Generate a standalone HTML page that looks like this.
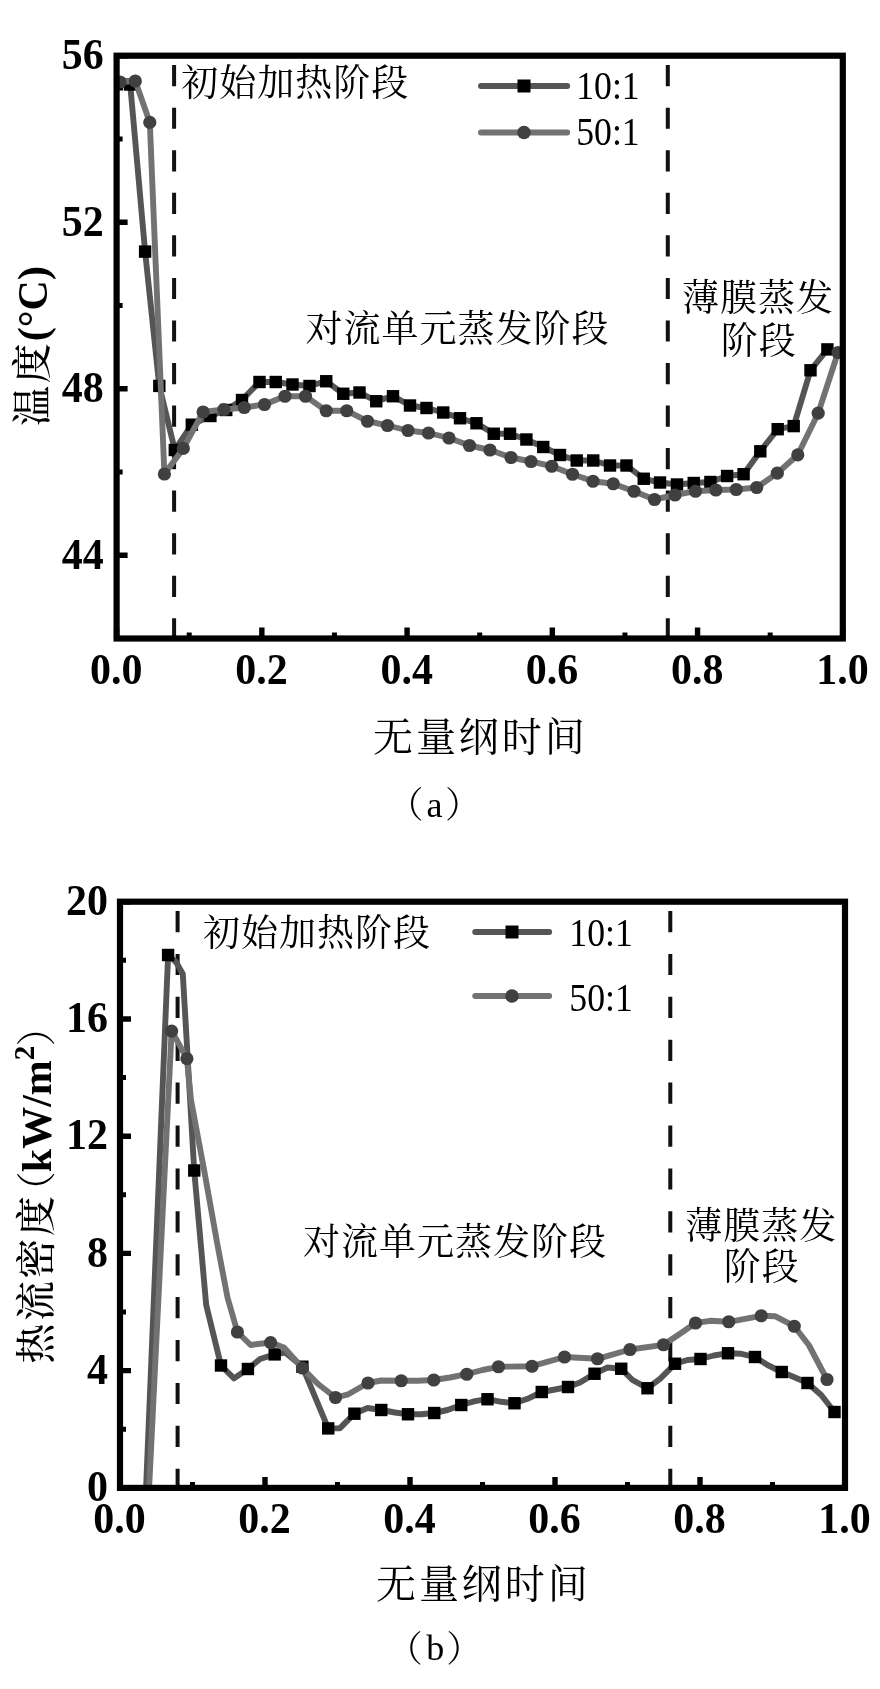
<!DOCTYPE html>
<html lang="zh"><head><meta charset="utf-8"><title>figure</title>
<style>html,body{margin:0;padding:0;background:#fff;overflow:hidden}svg{display:block;will-change:transform;filter:grayscale(1) blur(0.45px)}</style></head>
<body>
<svg width="880" height="1689" viewBox="0 0 880 1689">
<rect width="880" height="1689" fill="#fff"/>
<path d="M174.1 65.1V86.3M174.1 107.7V128.8M174.1 150.2V171.4M174.1 192.8V213.9M174.1 235.3V256.5M174.1 277.9V299.1M174.1 320.4V341.6M174.1 363.0V384.2M174.1 405.5V426.7M174.1 448.1V469.3M174.1 490.6V511.8M174.1 533.2V554.4M174.1 575.7V596.9M174.1 618.2V638.5" stroke="#111" stroke-width="4" fill="none"/>
<path d="M667.8 65.1V86.3M667.8 107.7V128.8M667.8 150.2V171.4M667.8 192.8V213.9M667.8 235.3V256.5M667.8 277.9V299.1M667.8 320.4V341.6M667.8 363.0V384.2M667.8 405.5V426.7M667.8 448.1V469.3M667.8 490.6V511.8M667.8 533.2V554.4M667.8 575.7V596.9M667.8 618.2V638.5" stroke="#111" stroke-width="4" fill="none"/>
<clipPath id="ca"><rect x="114" y="53" width="732" height="588"/></clipPath><g clip-path="url(#ca)">
<polyline points="117.0,84.3 130.2,84.5 145.1,251.6 159.3,385.9 174.8,450.0 191.8,424.7 210.4,416.0 226.2,410.0 242.0,400.0 259.5,382.0 275.8,382.0 292.5,384.5 309.5,386.0 326.2,381.2 343.2,393.8 359.5,392.5 376.2,401.2 393.0,396.2 410.0,405.5 426.5,408.0 443.2,412.5 460.0,418.2 476.5,423.2 493.8,433.8 510.0,433.8 526.4,439.5 543.2,447.0 560.0,455.0 576.8,460.5 593.2,460.5 610.0,465.5 626.5,465.5 643.8,478.8 660.0,482.5 677.0,484.5 693.8,483.0 710.4,482.0 727.1,476.0 743.6,474.2 760.3,451.3 777.7,429.2 793.7,426.1 810.5,370.3 827.4,349.4" fill="none" stroke="#555555" stroke-width="5.9" stroke-linejoin="round" stroke-linecap="round"/>
<g fill="#000000"><rect x="110.80" y="78.10" width="12.4" height="12.4"/><rect x="124.00" y="78.30" width="12.4" height="12.4"/><rect x="138.90" y="245.40" width="12.4" height="12.4"/><rect x="153.10" y="379.70" width="12.4" height="12.4"/><rect x="168.60" y="443.80" width="12.4" height="12.4"/><rect x="185.60" y="418.50" width="12.4" height="12.4"/><rect x="204.20" y="409.80" width="12.4" height="12.4"/><rect x="220.05" y="403.80" width="12.4" height="12.4"/><rect x="235.80" y="393.80" width="12.4" height="12.4"/><rect x="253.30" y="375.80" width="12.4" height="12.4"/><rect x="269.55" y="375.80" width="12.4" height="12.4"/><rect x="286.30" y="378.30" width="12.4" height="12.4"/><rect x="303.30" y="379.80" width="12.4" height="12.4"/><rect x="320.05" y="375.05" width="12.4" height="12.4"/><rect x="337.05" y="387.55" width="12.4" height="12.4"/><rect x="353.30" y="386.30" width="12.4" height="12.4"/><rect x="370.05" y="395.05" width="12.4" height="12.4"/><rect x="386.80" y="390.05" width="12.4" height="12.4"/><rect x="403.80" y="399.30" width="12.4" height="12.4"/><rect x="420.30" y="401.80" width="12.4" height="12.4"/><rect x="437.05" y="406.30" width="12.4" height="12.4"/><rect x="453.80" y="412.05" width="12.4" height="12.4"/><rect x="470.30" y="417.05" width="12.4" height="12.4"/><rect x="487.55" y="427.55" width="12.4" height="12.4"/><rect x="503.80" y="427.55" width="12.4" height="12.4"/><rect x="520.20" y="433.30" width="12.4" height="12.4"/><rect x="537.05" y="440.80" width="12.4" height="12.4"/><rect x="553.80" y="448.80" width="12.4" height="12.4"/><rect x="570.55" y="454.30" width="12.4" height="12.4"/><rect x="587.05" y="454.30" width="12.4" height="12.4"/><rect x="603.80" y="459.30" width="12.4" height="12.4"/><rect x="620.30" y="459.30" width="12.4" height="12.4"/><rect x="637.55" y="472.55" width="12.4" height="12.4"/><rect x="653.80" y="476.30" width="12.4" height="12.4"/><rect x="670.80" y="478.30" width="12.4" height="12.4"/><rect x="687.55" y="476.80" width="12.4" height="12.4"/><rect x="704.20" y="475.80" width="12.4" height="12.4"/><rect x="720.90" y="469.80" width="12.4" height="12.4"/><rect x="737.40" y="468.00" width="12.4" height="12.4"/><rect x="754.10" y="445.10" width="12.4" height="12.4"/><rect x="771.50" y="423.00" width="12.4" height="12.4"/><rect x="787.50" y="419.90" width="12.4" height="12.4"/><rect x="804.30" y="364.10" width="12.4" height="12.4"/><rect x="821.20" y="343.20" width="12.4" height="12.4"/></g>
<polyline points="120.0,82.0 135.3,81.0 149.8,122.4 164.4,474.0 183.3,448.4 203.1,412.0 223.9,409.5 244.2,407.5 264.5,404.5 285.0,396.2 305.5,396.2 326.2,410.8 346.8,410.8 367.5,421.2 387.5,425.5 408.0,430.5 428.5,433.0 449.0,438.0 469.5,445.5 490.0,450.0 511.0,457.5 531.0,461.5 551.8,466.2 572.5,474.2 593.0,481.2 613.2,483.8 634.0,491.2 654.5,499.5 675.0,495.0 695.5,491.2 715.9,490.0 736.2,489.5 756.7,487.5 777.3,473.2 797.8,454.8 818.2,413.2 838.0,352.5" fill="none" stroke="#727272" stroke-width="5.9" stroke-linejoin="round" stroke-linecap="round"/>
<g fill="#404040"><circle cx="120.00" cy="82.00" r="6.6"/><circle cx="135.30" cy="81.00" r="6.6"/><circle cx="149.80" cy="122.40" r="6.6"/><circle cx="164.40" cy="474.00" r="6.6"/><circle cx="183.30" cy="448.40" r="6.6"/><circle cx="203.10" cy="412.00" r="6.6"/><circle cx="223.90" cy="409.50" r="6.6"/><circle cx="244.25" cy="407.50" r="6.6"/><circle cx="264.50" cy="404.50" r="6.6"/><circle cx="285.00" cy="396.25" r="6.6"/><circle cx="305.50" cy="396.25" r="6.6"/><circle cx="326.25" cy="410.75" r="6.6"/><circle cx="346.75" cy="410.75" r="6.6"/><circle cx="367.50" cy="421.25" r="6.6"/><circle cx="387.50" cy="425.50" r="6.6"/><circle cx="408.00" cy="430.50" r="6.6"/><circle cx="428.50" cy="433.00" r="6.6"/><circle cx="449.00" cy="438.00" r="6.6"/><circle cx="469.50" cy="445.50" r="6.6"/><circle cx="490.00" cy="450.00" r="6.6"/><circle cx="511.00" cy="457.50" r="6.6"/><circle cx="531.00" cy="461.50" r="6.6"/><circle cx="551.75" cy="466.25" r="6.6"/><circle cx="572.50" cy="474.25" r="6.6"/><circle cx="593.00" cy="481.25" r="6.6"/><circle cx="613.25" cy="483.75" r="6.6"/><circle cx="634.00" cy="491.25" r="6.6"/><circle cx="654.50" cy="499.50" r="6.6"/><circle cx="675.00" cy="495.00" r="6.6"/><circle cx="695.50" cy="491.25" r="6.6"/><circle cx="715.90" cy="490.00" r="6.6"/><circle cx="736.20" cy="489.50" r="6.6"/><circle cx="756.70" cy="487.50" r="6.6"/><circle cx="777.30" cy="473.20" r="6.6"/><circle cx="797.80" cy="454.80" r="6.6"/><circle cx="818.20" cy="413.20" r="6.6"/><circle cx="838.00" cy="352.50" r="6.6"/></g>
</g>
<path d="M116.60 638.5v-11M261.84 638.5v-11M407.08 638.5v-11M552.32 638.5v-11M697.56 638.5v-11M842.80 638.5v-11M116.6 555.24h11M116.6 388.73h11M116.6 222.21h11M116.6 55.70h11" stroke="#000" stroke-width="5.4" fill="none"/>
<path d="M189.22 638.5v-6M334.46 638.5v-6M479.70 638.5v-6M624.94 638.5v-6M770.18 638.5v-6M116.6 638.50h6M116.6 471.99h6M116.6 305.47h6M116.6 138.96h6" stroke="#000" stroke-width="5" fill="none"/>
<rect x="116.6" y="55.7" width="726.1999999999999" height="582.8" fill="none" stroke="#000" stroke-width="6.2"/>
<text transform="translate(116.2,683.6) scale(1,1.035)" font-size="42" text-anchor="middle" font-weight="bold" font-family='"Liberation Serif", "Noto Serif CJK SC", serif' >0.0</text>
<text transform="translate(261.4,683.6) scale(1,1.035)" font-size="42" text-anchor="middle" font-weight="bold" font-family='"Liberation Serif", "Noto Serif CJK SC", serif' >0.2</text>
<text transform="translate(406.7,683.6) scale(1,1.035)" font-size="42" text-anchor="middle" font-weight="bold" font-family='"Liberation Serif", "Noto Serif CJK SC", serif' >0.4</text>
<text transform="translate(551.9,683.6) scale(1,1.035)" font-size="42" text-anchor="middle" font-weight="bold" font-family='"Liberation Serif", "Noto Serif CJK SC", serif' >0.6</text>
<text transform="translate(697.2,683.6) scale(1,1.035)" font-size="42" text-anchor="middle" font-weight="bold" font-family='"Liberation Serif", "Noto Serif CJK SC", serif' >0.8</text>
<text transform="translate(842.4,683.6) scale(1,1.035)" font-size="42" text-anchor="middle" font-weight="bold" font-family='"Liberation Serif", "Noto Serif CJK SC", serif' >1.0</text>
<text transform="translate(103.8,568.5) scale(1,1.035)" font-size="42" text-anchor="end" font-weight="bold" font-family='"Liberation Serif", "Noto Serif CJK SC", serif' >44</text>
<text transform="translate(103.8,402.0) scale(1,1.035)" font-size="42" text-anchor="end" font-weight="bold" font-family='"Liberation Serif", "Noto Serif CJK SC", serif' >48</text>
<text transform="translate(103.8,235.5) scale(1,1.035)" font-size="42" text-anchor="end" font-weight="bold" font-family='"Liberation Serif", "Noto Serif CJK SC", serif' >52</text>
<text transform="translate(103.8,69.0) scale(1,1.035)" font-size="42" text-anchor="end" font-weight="bold" font-family='"Liberation Serif", "Noto Serif CJK SC", serif' >56</text>
<path d="M481 86H567.2" stroke="#555555" stroke-width="5.9" stroke-linecap="round"/>
<g fill="#000000"><rect x="517.50" y="79.50" width="13.0" height="13.0"/></g>
<path d="M481 132.5H567.2" stroke="#727272" stroke-width="5.9" stroke-linecap="round"/>
<g fill="#404040"><circle cx="524.00" cy="132.50" r="6.8"/></g>
<text transform="translate(576.2,99) scale(0.94,1.06)" font-size="38" text-anchor="start" font-weight="normal" font-family='"Liberation Serif", "Noto Serif CJK SC", serif' >10:1</text>
<text transform="translate(576.2,145) scale(0.94,1.06)" font-size="38" text-anchor="start" font-weight="normal" font-family='"Liberation Serif", "Noto Serif CJK SC", serif' >50:1</text>
<text x="295.3" y="95.8" font-size="37" text-anchor="middle" font-weight="normal" font-family='"Liberation Serif", "Noto Serif CJK SC", serif' font-weight="500" letter-spacing="1">初始加热阶段</text>
<text x="457.4" y="341.6" font-size="37" text-anchor="middle" font-weight="normal" font-family='"Liberation Serif", "Noto Serif CJK SC", serif' font-weight="500" letter-spacing="1">对流单元蒸发阶段</text>
<text x="757.9" y="311" font-size="37" text-anchor="middle" font-weight="normal" font-family='"Liberation Serif", "Noto Serif CJK SC", serif' font-weight="500" letter-spacing="1">薄膜蒸发</text>
<text x="758.7" y="354" font-size="37" text-anchor="middle" font-weight="normal" font-family='"Liberation Serif", "Noto Serif CJK SC", serif' font-weight="500" letter-spacing="1">阶段</text>
<text x="480.3" y="751" font-size="40" text-anchor="middle" font-weight="normal" font-family='"Liberation Serif", "Noto Serif CJK SC", serif' font-weight="500" letter-spacing="2.9">无量纲时间</text>
<text y="817" font-family='"Liberation Serif", "Noto Serif CJK SC", serif' font-size="36"><tspan x="423.5" dy="1.4" text-anchor="end" font-weight="300">（</tspan><tspan x="434.4" dy="-1.4" text-anchor="middle">a</tspan><tspan x="444.9" dy="1.4" font-weight="300">）</tspan></text>
<g transform="translate(47.8,424.4) rotate(-90)" font-family='"Liberation Serif", "Noto Serif CJK SC", serif'>
<text x="-1.5" y="-2" font-size="40" font-weight="500" letter-spacing="2.6">温度</text>
<text x="83.2" y="-0.6" font-size="42" font-weight="bold">(°C)</text>
</g>
<path d="M177.6 911.0V932.2M177.6 953.9V975.1M177.6 996.8V1018.0M177.6 1039.7V1060.9M177.6 1082.6V1103.8M177.6 1125.5V1146.7M177.6 1168.4V1189.6M177.6 1211.3V1232.5M177.6 1254.2V1275.4M177.6 1297.1V1318.3M177.6 1340.0V1361.2M177.6 1382.9V1404.1M177.6 1425.8V1447.0M177.6 1468.7V1487.9" stroke="#111" stroke-width="4" fill="none"/>
<path d="M670.3 911.0V932.2M670.3 953.9V975.1M670.3 996.8V1018.0M670.3 1039.7V1060.9M670.3 1082.6V1103.8M670.3 1125.5V1146.7M670.3 1168.4V1189.6M670.3 1211.3V1232.5M670.3 1254.2V1275.4M670.3 1297.1V1318.3M670.3 1340.0V1361.2M670.3 1382.9V1404.1M670.3 1425.8V1447.0M670.3 1468.7V1487.9" stroke="#111" stroke-width="4" fill="none"/>
<clipPath id="cb"><rect x="120" y="900" width="730" height="587.5"/></clipPath><g clip-path="url(#cb)">
<polyline points="146.0,1490.0 168.1,955.0 176.0,962.0 182.8,973.9 194.2,1170.5 206.2,1305.0 221.0,1365.5 234.0,1378.4 247.9,1369.0 260.0,1359.0 274.7,1354.4 285.5,1352.7 302.4,1366.7 328.2,1428.4 340.0,1428.2 354.4,1413.7 367.5,1408.0 381.2,1410.0 395.0,1412.5 408.0,1414.2 421.2,1414.2 434.2,1413.0 447.5,1410.0 461.2,1405.0 475.0,1401.2 487.5,1399.2 501.2,1401.8 514.5,1403.2 527.5,1398.8 541.8,1392.0 555.0,1389.5 568.0,1387.0 580.0,1382.5 594.5,1373.8 607.5,1367.5 621.2,1368.8 632.5,1380.0 647.5,1388.2 660.0,1378.8 675.0,1363.8 687.5,1360.0 700.5,1359.0 713.8,1355.5 728.0,1353.2 741.2,1353.8 755.0,1357.0 767.5,1365.0 781.8,1372.0 795.0,1377.5 807.5,1383.0 821.2,1395.0 834.5,1412.0" fill="none" stroke="#555555" stroke-width="5.9" stroke-linejoin="round" stroke-linecap="round"/>
<g fill="#000000"><rect x="161.90" y="948.80" width="12.4" height="12.4"/><rect x="188.05" y="1164.30" width="12.4" height="12.4"/><rect x="214.80" y="1359.30" width="12.4" height="12.4"/><rect x="241.70" y="1362.80" width="12.4" height="12.4"/><rect x="268.50" y="1348.20" width="12.4" height="12.4"/><rect x="296.20" y="1360.50" width="12.4" height="12.4"/><rect x="322.00" y="1422.20" width="12.4" height="12.4"/><rect x="348.20" y="1407.50" width="12.4" height="12.4"/><rect x="375.05" y="1403.80" width="12.4" height="12.4"/><rect x="401.80" y="1408.05" width="12.4" height="12.4"/><rect x="428.05" y="1406.80" width="12.4" height="12.4"/><rect x="455.05" y="1398.80" width="12.4" height="12.4"/><rect x="481.30" y="1393.05" width="12.4" height="12.4"/><rect x="508.30" y="1397.05" width="12.4" height="12.4"/><rect x="535.55" y="1385.80" width="12.4" height="12.4"/><rect x="561.80" y="1380.80" width="12.4" height="12.4"/><rect x="588.30" y="1367.55" width="12.4" height="12.4"/><rect x="615.05" y="1362.55" width="12.4" height="12.4"/><rect x="641.30" y="1382.05" width="12.4" height="12.4"/><rect x="668.80" y="1357.55" width="12.4" height="12.4"/><rect x="694.30" y="1352.80" width="12.4" height="12.4"/><rect x="721.80" y="1347.05" width="12.4" height="12.4"/><rect x="748.80" y="1350.80" width="12.4" height="12.4"/><rect x="775.55" y="1365.80" width="12.4" height="12.4"/><rect x="801.30" y="1376.80" width="12.4" height="12.4"/><rect x="828.30" y="1405.80" width="12.4" height="12.4"/></g>
<polyline points="149.0,1490.0 171.6,1031.1 176.7,1040.0 186.9,1058.7 191.0,1100.0 205.0,1175.0 217.5,1245.0 227.5,1297.5 237.4,1332.0 250.6,1345.0 260.0,1343.8 270.6,1342.6 284.0,1347.5 302.4,1368.0 318.0,1384.0 335.5,1397.5 347.4,1394.7 368.0,1383.0 381.2,1380.5 401.2,1380.8 417.5,1380.8 433.8,1380.0 450.0,1377.5 466.8,1374.2 482.5,1370.0 498.5,1366.8 532.0,1366.2 564.5,1357.0 597.5,1358.8 630.0,1349.5 663.5,1344.8 680.0,1333.8 695.5,1323.0 710.0,1320.8 728.8,1321.8 745.0,1318.8 761.2,1315.8 775.0,1316.2 794.2,1326.2 808.8,1345.0 827.0,1379.5" fill="none" stroke="#727272" stroke-width="5.9" stroke-linejoin="round" stroke-linecap="round"/>
<g fill="#404040"><circle cx="171.60" cy="1031.10" r="6.6"/><circle cx="186.90" cy="1058.70" r="6.6"/><circle cx="237.40" cy="1332.00" r="6.6"/><circle cx="270.60" cy="1342.60" r="6.6"/><circle cx="302.40" cy="1368.00" r="6.6"/><circle cx="335.50" cy="1397.50" r="6.6"/><circle cx="368.00" cy="1383.00" r="6.6"/><circle cx="401.25" cy="1380.75" r="6.6"/><circle cx="433.75" cy="1380.00" r="6.6"/><circle cx="466.75" cy="1374.25" r="6.6"/><circle cx="498.50" cy="1366.75" r="6.6"/><circle cx="532.00" cy="1366.25" r="6.6"/><circle cx="564.50" cy="1357.00" r="6.6"/><circle cx="597.50" cy="1358.75" r="6.6"/><circle cx="630.00" cy="1349.50" r="6.6"/><circle cx="663.50" cy="1344.75" r="6.6"/><circle cx="695.50" cy="1323.00" r="6.6"/><circle cx="728.75" cy="1321.75" r="6.6"/><circle cx="761.25" cy="1315.75" r="6.6"/><circle cx="794.25" cy="1326.25" r="6.6"/><circle cx="827.00" cy="1379.50" r="6.6"/></g>
</g>
<path d="M120.00 1487.9v-11M265.00 1487.9v-11M410.00 1487.9v-11M555.00 1487.9v-11M700.00 1487.9v-11M845.00 1487.9v-11M120.0 1487.90h11M120.0 1370.66h11M120.0 1253.42h11M120.0 1136.18h11M120.0 1018.94h11M120.0 901.70h11" stroke="#000" stroke-width="5.4" fill="none"/>
<path d="M192.50 1487.9v-6M337.50 1487.9v-6M482.50 1487.9v-6M627.50 1487.9v-6M772.50 1487.9v-6M120.0 1429.28h6M120.0 1312.04h6M120.0 1194.80h6M120.0 1077.56h6M120.0 960.32h6" stroke="#000" stroke-width="5" fill="none"/>
<rect x="120.0" y="901.7" width="725.0" height="586.2" fill="none" stroke="#000" stroke-width="6.2"/>
<text transform="translate(119.6,1532.7) scale(1,1.035)" font-size="42" text-anchor="middle" font-weight="bold" font-family='"Liberation Serif", "Noto Serif CJK SC", serif' >0.0</text>
<text transform="translate(264.6,1532.7) scale(1,1.035)" font-size="42" text-anchor="middle" font-weight="bold" font-family='"Liberation Serif", "Noto Serif CJK SC", serif' >0.2</text>
<text transform="translate(409.6,1532.7) scale(1,1.035)" font-size="42" text-anchor="middle" font-weight="bold" font-family='"Liberation Serif", "Noto Serif CJK SC", serif' >0.4</text>
<text transform="translate(554.6,1532.7) scale(1,1.035)" font-size="42" text-anchor="middle" font-weight="bold" font-family='"Liberation Serif", "Noto Serif CJK SC", serif' >0.6</text>
<text transform="translate(699.6,1532.7) scale(1,1.035)" font-size="42" text-anchor="middle" font-weight="bold" font-family='"Liberation Serif", "Noto Serif CJK SC", serif' >0.8</text>
<text transform="translate(844.6,1532.7) scale(1,1.035)" font-size="42" text-anchor="middle" font-weight="bold" font-family='"Liberation Serif", "Noto Serif CJK SC", serif' >1.0</text>
<text transform="translate(108,1501.1) scale(1,1.035)" font-size="42" text-anchor="end" font-weight="bold" font-family='"Liberation Serif", "Noto Serif CJK SC", serif' >0</text>
<text transform="translate(108,1383.9) scale(1,1.035)" font-size="42" text-anchor="end" font-weight="bold" font-family='"Liberation Serif", "Noto Serif CJK SC", serif' >4</text>
<text transform="translate(108,1266.6) scale(1,1.035)" font-size="42" text-anchor="end" font-weight="bold" font-family='"Liberation Serif", "Noto Serif CJK SC", serif' >8</text>
<text transform="translate(108,1149.4) scale(1,1.035)" font-size="42" text-anchor="end" font-weight="bold" font-family='"Liberation Serif", "Noto Serif CJK SC", serif' >12</text>
<text transform="translate(108,1032.1) scale(1,1.035)" font-size="42" text-anchor="end" font-weight="bold" font-family='"Liberation Serif", "Noto Serif CJK SC", serif' >16</text>
<text transform="translate(108,914.9) scale(1,1.035)" font-size="42" text-anchor="end" font-weight="bold" font-family='"Liberation Serif", "Noto Serif CJK SC", serif' >20</text>
<path d="M475.2 932H549.2" stroke="#555555" stroke-width="5.9" stroke-linecap="round"/>
<g fill="#000000"><rect x="505.50" y="925.50" width="13.0" height="13.0"/></g>
<path d="M475.2 996H549.2" stroke="#727272" stroke-width="5.9" stroke-linecap="round"/>
<g fill="#404040"><circle cx="512.00" cy="996.00" r="6.8"/></g>
<text transform="translate(569.3,945.5) scale(0.94,1.06)" font-size="38" text-anchor="start" font-weight="normal" font-family='"Liberation Serif", "Noto Serif CJK SC", serif' >10:1</text>
<text transform="translate(569.3,1010.5) scale(0.94,1.06)" font-size="38" text-anchor="start" font-weight="normal" font-family='"Liberation Serif", "Noto Serif CJK SC", serif' >50:1</text>
<text x="316.9" y="945.8" font-size="37" text-anchor="middle" font-weight="normal" font-family='"Liberation Serif", "Noto Serif CJK SC", serif' font-weight="500" letter-spacing="1">初始加热阶段</text>
<text x="455" y="1255" font-size="37" text-anchor="middle" font-weight="normal" font-family='"Liberation Serif", "Noto Serif CJK SC", serif' font-weight="500" letter-spacing="1">对流单元蒸发阶段</text>
<text x="761.3" y="1238.5" font-size="37" text-anchor="middle" font-weight="normal" font-family='"Liberation Serif", "Noto Serif CJK SC", serif' font-weight="500" letter-spacing="1">薄膜蒸发</text>
<text x="761.7" y="1280.2" font-size="37" text-anchor="middle" font-weight="normal" font-family='"Liberation Serif", "Noto Serif CJK SC", serif' font-weight="500" letter-spacing="1">阶段</text>
<text x="483.3" y="1598" font-size="40" text-anchor="middle" font-weight="normal" font-family='"Liberation Serif", "Noto Serif CJK SC", serif' font-weight="500" letter-spacing="2.9">无量纲时间</text>
<text y="1660.2" font-family='"Liberation Serif", "Noto Serif CJK SC", serif' font-size="36"><tspan x="422.8" dy="1.4" text-anchor="end" font-weight="300">（</tspan><tspan x="435.2" dy="-1.4" text-anchor="middle">b</tspan><tspan x="446.3" dy="1.4" font-weight="300">）</tspan></text>
<g transform="translate(50.9,1362.2) rotate(-90)" font-family='"Liberation Serif", "Noto Serif CJK SC", serif'>
<text x="-1.5" y="-0.7" font-size="40" font-weight="500" letter-spacing="2.6">热流密度</text>
<text x="191" y="0" font-size="40" font-weight="300" text-anchor="end">（</text>
<text x="190" y="0" font-size="42" font-weight="bold">kW/m</text>
<text x="302" y="-16.7" font-size="29" font-weight="bold">2</text>
<text x="315.8" y="0" font-size="40" font-weight="300">）</text>
</g>
</svg>
</body></html>
